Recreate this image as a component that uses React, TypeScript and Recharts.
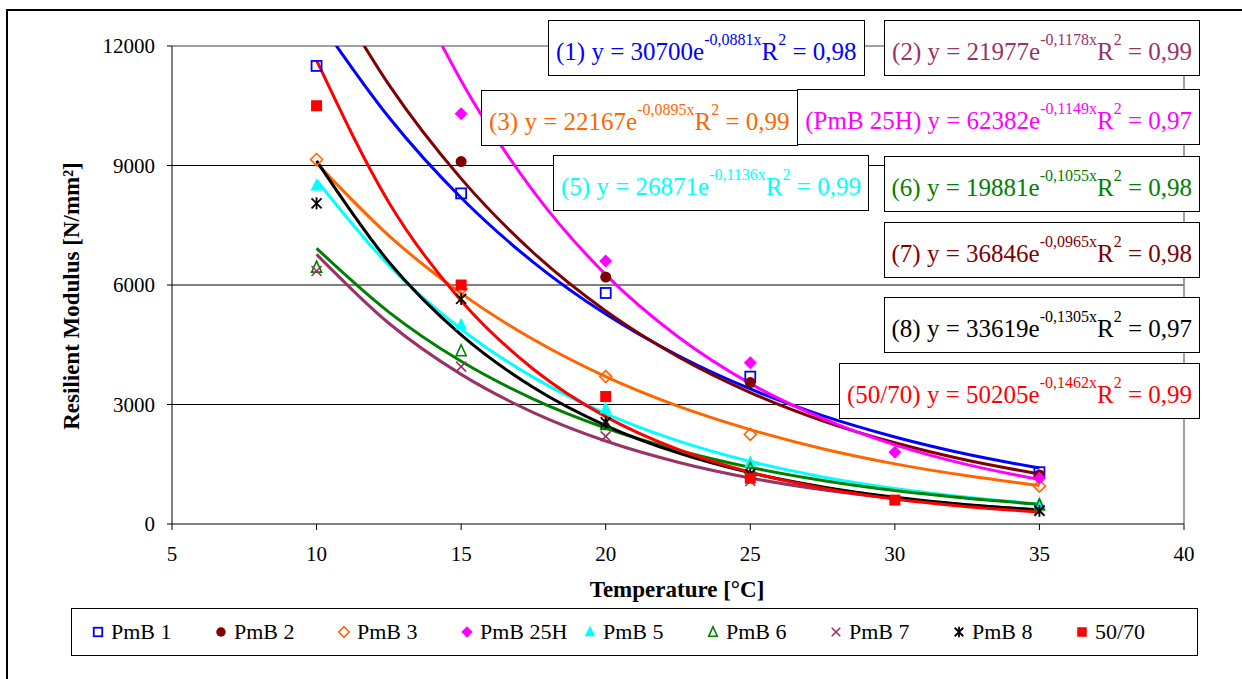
import React from 'react';
import { ComposedChart, Line, Scatter, XAxis, YAxis, ReferenceLine } from 'recharts';

const trendTemps = [10, 12.5, 15, 17.5, 20, 22.5, 25, 27.5, 30, 32.5, 35];

// Trend curve values (N/mm²) read at trendTemps
const trendPmB1 = [12720, 10210, 8190, 6570, 5270, 4230, 3390, 2720, 2185, 1750, 1405];
const trendPmB2 = [14040, 11030, 8670, 6810, 5350, 4200, 3300, 2590, 2040, 1600, 1257];
const trendPmB3 = [9060, 7240, 5790, 4630, 3700, 2960, 2370, 1890, 1510, 1210, 967];
const trendPmB25H = [19780, 14830, 11130, 8350, 6260, 4700, 3525, 2650, 1986, 1490, 1118];
const trendPmB5 = [8630, 6495, 4890, 3680, 2770, 2086, 1570, 1182, 890, 670, 504];
const trendPmB6 = [6920, 5320, 4084, 3137, 2410, 1851, 1422, 1092, 839, 645, 495];
const trendPmB7 = [6770, 5040, 3756, 2798, 2084, 1552, 1156, 861, 642, 478, 356];
const trendPmB8 = [9117, 6579, 4747, 3426, 2472, 1784, 1287, 929, 670, 484, 349];
const trend5070 = [11640, 8073, 5603, 3886, 2696, 1871, 1298, 901, 625, 434, 301];

// Measured points
const ptsPmB1 = [{ x: 10, y: 11500 }, { x: 15, y: 8300 }, { x: 20, y: 5800 }, { x: 25, y: 3700 }, { x: 35, y: 1300 }];
const ptsPmB2 = [{ x: 15, y: 9100 }, { x: 20, y: 6200 }, { x: 25, y: 3550 }, { x: 35, y: 1230 }];
const ptsPmB3 = [{ x: 10, y: 9150 }, { x: 15, y: 5900 }, { x: 20, y: 3700 }, { x: 25, y: 2250 }, { x: 35, y: 950 }];
const ptsPmB25H = [{ x: 15, y: 10300 }, { x: 20, y: 6600 }, { x: 25, y: 4050 }, { x: 30, y: 1800 }, { x: 35, y: 1150 }];
const ptsPmB5 = [{ x: 10, y: 8500 }, { x: 15, y: 5000 }, { x: 20, y: 2900 }, { x: 25, y: 1550 }, { x: 35, y: 500 }];
const ptsPmB6 = [{ x: 10, y: 6450 }, { x: 15, y: 4350 }, { x: 20, y: 2500 }, { x: 25, y: 1400 }, { x: 35, y: 480 }];
const ptsPmB7 = [{ x: 10, y: 6350 }, { x: 15, y: 3950 }, { x: 20, y: 2200 }, { x: 25, y: 1080 }, { x: 35, y: 350 }];
const ptsPmB8 = [{ x: 10, y: 8050 }, { x: 15, y: 5650 }, { x: 20, y: 2550 }, { x: 25, y: 1250 }, { x: 35, y: 330 }];
const pts5070 = [{ x: 10, y: 10500 }, { x: 15, y: 6000 }, { x: 20, y: 3200 }, { x: 25, y: 1150 }, { x: 30, y: 600 }];

const xTicks = [5, 10, 15, 20, 25, 30, 35, 40];
const yTicks = [0, 3000, 6000, 9000, 12000];
const gridValues = [3000, 6000, 9000];

const seriesNames = ['PmB 1', 'PmB 2', 'PmB 3', 'PmB 25H', 'PmB 5', 'PmB 6', 'PmB 7', 'PmB 8', '50/70'];

type Eq = { label: string; a: string; b: string; r2: string; color: string; left?: number; right?: number; top: number };
const equations: Eq[] = [
  { label: '(1)', a: '30700', b: '-0,0881x', r2: '0,98', color: '#0000FF', left: 548, top: 20 },
  { label: '(2)', a: '21977', b: '-0,1178x', r2: '0,99', color: '#993366', right: 42, top: 20 },
  { label: '(3)', a: '22167', b: '-0,0895x', r2: '0,99', color: '#FF6600', left: 481, top: 90 },
  { label: '(PmB 25H)', a: '62382', b: '-0,1149x', r2: '0,97', color: '#FF00FF', right: 42, top: 89 },
  { label: '(5)', a: '26871', b: '-0,1136x', r2: '0,99', color: '#00FFFF', left: 553, top: 155 },
  { label: '(6)', a: '19881', b: '-0,1055x', r2: '0,98', color: '#008000', right: 42, top: 156 },
  { label: '(7)', a: '36846', b: '-0,0965x', r2: '0,98', color: '#800000', right: 42, top: 222 },
  { label: '(8)', a: '33619', b: '-0,1305x', r2: '0,97', color: '#000000', right: 42, top: 297 },
  { label: '(50/70)', a: '50205', b: '-0,1462x', r2: '0,99', color: '#FF0000', right: 42, top: 363 },
];

const toLine = (vals: number[]) => trendTemps.map((x, i) => ({ x, y: vals[i] }));

type Kind = 'sqOpen' | 'circle' | 'diaOpen' | 'dia' | 'tri' | 'triOpen' | 'x' | 'star' | 'sq';

const drawMarker = (kind: Kind, color: string, cx: number, cy: number, k = 1) => {
  const s = 5 * k;
  switch (kind) {
    case 'sqOpen':
      return <rect x={cx - s} y={cy - s} width={2 * s} height={2 * s} fill="none" stroke={color} strokeWidth={1.8} />;
    case 'sq':
      return <rect x={cx - s - 0.5} y={cy - s - 0.5} width={2 * s + 1} height={2 * s + 1} fill={color} />;
    case 'circle':
      return <circle cx={cx} cy={cy} r={s + 0.5} fill={color} />;
    case 'diaOpen':
      return <polygon points={`${cx},${cy - s - 1} ${cx + s + 1},${cy} ${cx},${cy + s + 1} ${cx - s - 1},${cy}`} fill="none" stroke={color} strokeWidth={1.6} />;
    case 'dia':
      return <polygon points={`${cx},${cy - s - 1.5} ${cx + s + 1.5},${cy} ${cx},${cy + s + 1.5} ${cx - s - 1.5},${cy}`} fill={color} />;
    case 'tri':
      return <polygon points={`${cx},${cy - s - 2} ${cx + s + 1},${cy + s} ${cx - s - 1},${cy + s}`} fill={color} />;
    case 'triOpen':
      return <polygon points={`${cx},${cy - s - 1} ${cx + s},${cy + s} ${cx - s},${cy + s}`} fill="none" stroke={color} strokeWidth={1.6} />;
    case 'x':
      return (
        <g stroke={color} strokeWidth={1.6}>
          <line x1={cx - s} y1={cy - s} x2={cx + s} y2={cy + s} />
          <line x1={cx - s} y1={cy + s} x2={cx + s} y2={cy - s} />
        </g>
      );
    case 'star':
      return (
        <g stroke={color} strokeWidth={1.8}>
          <line x1={cx - s} y1={cy - s} x2={cx + s} y2={cy + s} />
          <line x1={cx - s} y1={cy + s} x2={cx + s} y2={cy - s} />
          <line x1={cx} y1={cy - s - 1} x2={cx} y2={cy + s + 1} />
        </g>
      );
  }
  return null;
};

const shapeFor = (kind: Kind, color: string) => (props: any) => {
  const { cx, cy } = props;
  if (cx == null || cy == null) return <g />;
  return <g>{drawMarker(kind, color, cx, cy)}</g>;
};

const series = [
  { name: seriesNames[0], color: '#0000FF', kind: 'sqOpen' as Kind, trend: trendPmB1, pts: ptsPmB1 },
  { name: seriesNames[1], color: '#800000', kind: 'circle' as Kind, trend: trendPmB2, pts: ptsPmB2 },
  { name: seriesNames[2], color: '#FF6600', kind: 'diaOpen' as Kind, trend: trendPmB3, pts: ptsPmB3 },
  { name: seriesNames[3], color: '#FF00FF', kind: 'dia' as Kind, trend: trendPmB25H, pts: ptsPmB25H },
  { name: seriesNames[4], color: '#00FFFF', kind: 'tri' as Kind, trend: trendPmB5, pts: ptsPmB5 },
  { name: seriesNames[5], color: '#008000', kind: 'triOpen' as Kind, trend: trendPmB6, pts: ptsPmB6 },
  { name: seriesNames[6], color: '#993366', kind: 'x' as Kind, trend: trendPmB7, pts: ptsPmB7 },
  { name: seriesNames[7], color: '#000000', kind: 'star' as Kind, trend: trendPmB8, pts: ptsPmB8 },
  { name: seriesNames[8], color: '#FF0000', kind: 'sq' as Kind, trend: trend5070, pts: pts5070 },
];

const serif = '"Liberation Serif", "Times New Roman", serif';
const supStyle: React.CSSProperties = { fontSize: 16, verticalAlign: 'top', position: 'relative', top: -7 };

export default function App() {
  return (
    <div style={{ position: 'absolute', left: 0, top: 0, width: 1242, height: 679, background: '#fff', fontFamily: serif, overflow: 'hidden' }}>
      <div style={{ position: 'absolute', left: 6, top: 9, width: 1300, height: 700, borderLeft: '2px solid #000', borderTop: '2px solid #000' }} />
      <div style={{ position: 'absolute', left: 0, top: 0 }}>
        <ComposedChart width={1242} height={679} margin={{ top: 46, right: 58, bottom: 125, left: 112 }}>
          <XAxis
            type="number"
            dataKey="x"
            domain={[5, 40]}
            ticks={xTicks}
            allowDataOverflow
            height={30}
            stroke="#000"
            tickSize={6}
            tickMargin={16}
            tick={{ fontSize: 21, fill: '#000', fontFamily: serif }}
          />
          <YAxis
            type="number"
            dataKey="y"
            domain={[0, 12000]}
            ticks={yTicks}
            allowDataOverflow
            width={60}
            stroke="#000"
            tickSize={5}
            tickMargin={12}
            tick={{ fontSize: 21, fill: '#000', fontFamily: serif }}
          />
          {gridValues.map((v) => (
            <ReferenceLine key={v} y={v} stroke="#000" strokeWidth={1} />
          ))}
          <ReferenceLine y={12000} stroke="#808080" strokeWidth={1.5} />
          <ReferenceLine x={40} stroke="#808080" strokeWidth={1.5} />
          {series.map((s) => (
            <Scatter
              key={'p' + s.name}
              name={s.name}
              data={s.pts}
              dataKey="y"
              isAnimationActive={false}
              shape={shapeFor(s.kind, s.color)}
            />
          ))}
          {series.map((s) => (
            <Line
              key={'t' + s.name}
              data={toLine(s.trend)}
              dataKey="y"
              type="monotone"
              stroke={s.color}
              strokeWidth={3}
              dot={false}
              activeDot={false}
              isAnimationActive={false}
              legendType="none"
            />
          ))}
        </ComposedChart>
      </div>

      <div style={{ position: 'absolute', left: 72, top: 296, transform: 'translate(-50%, -50%) rotate(-90deg)', whiteSpace: 'nowrap', fontWeight: 'bold', fontSize: 23 }}>
        Resilient Modulus [N/mm²]
      </div>
      <div style={{ position: 'absolute', left: 677, top: 590, transform: 'translate(-50%, -50%)', whiteSpace: 'nowrap', fontWeight: 'bold', fontSize: 23 }}>
        Temperature [°C]
      </div>

      {equations.map((e) => (
        <div
          key={e.label}
          style={{
            position: 'absolute',
            left: e.left,
            right: e.right,
            top: e.top,
            height: 56,
            boxSizing: 'border-box',
            border: '1.5px solid #000',
            background: '#fff',
            color: e.color,
            fontSize: 25,
            whiteSpace: 'nowrap',
            display: 'flex',
            alignItems: 'center',
            padding: '7px 7px 0 7px',
          }}
        >
          <span>
            {e.label} y = {e.a}e<sup style={supStyle}>{e.b}</sup>R<sup style={supStyle}>2</sup> = {e.r2}
          </span>
        </div>
      ))}

      <div style={{ position: 'absolute', left: 71, top: 608, width: 1127, height: 48, boxSizing: 'border-box', border: '1.5px solid #000', background: '#fff' }}>
        {series.map((s, i) => (
          <div key={s.name} style={{ position: 'absolute', left: 18 + i * 123, top: 0, height: 45, display: 'flex', alignItems: 'center', whiteSpace: 'nowrap' }}>
            <svg width={16} height={16} style={{ marginRight: 5 }}>
              {drawMarker(s.kind, s.color, 8, 8, 0.85)}
            </svg>
            <span style={{ fontSize: 22, color: '#000' }}>{s.name}</span>
          </div>
        ))}
      </div>
    </div>
  );
}
